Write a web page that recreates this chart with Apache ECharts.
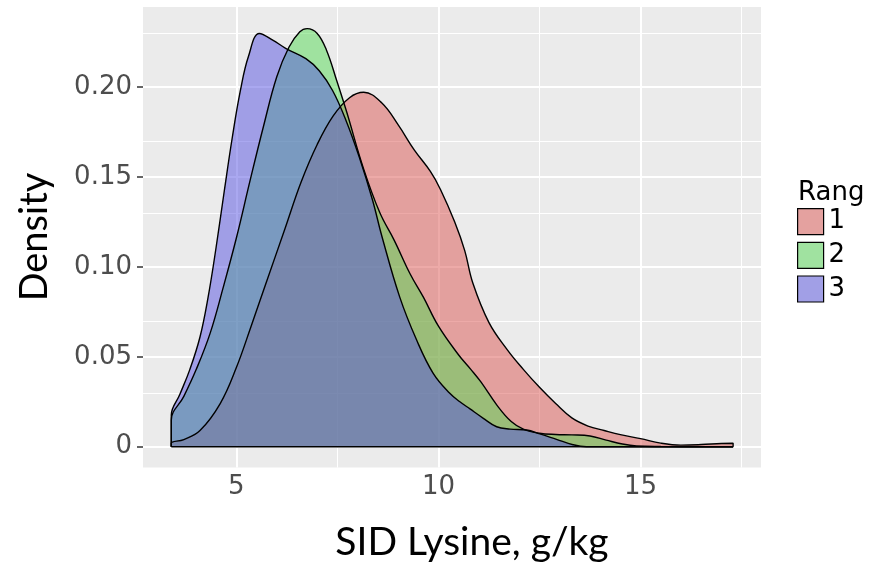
<!DOCTYPE html>
<html>
<head>
<meta charset="utf-8">
<script src="https://cdn.jsdelivr.net/npm/echarts@6/dist/echarts.min.js"></script>
<style>
html,body{margin:0;padding:0;background:#fff;}
#chart{width:877px;height:562px;}
</style>
</head>
<body>
<div id="chart"></div>
<script>
// ---- data ----
const groupNames = ['1', '2', '3'];
const xTicks = [5, 10, 15];
const xMinorGrid = [7.5, 12.5, 17.5];
const yTicks = [0, 0.05, 0.10, 0.15, 0.20];
const yMinorGrid = [0.025, 0.075, 0.125, 0.175, 0.225];

const x1 = [3.39, 3.7, 4.1, 4.6, 5.0, 5.35, 5.75, 6.2, 6.6, 7.0, 7.4, 7.8, 8.15, 8.6, 9.0, 9.4, 9.8, 10.05, 10.4, 10.65, 10.85, 11.25, 11.7, 12.1, 12.5, 12.9, 13.3, 13.7, 14.1, 14.5, 15.0, 15.5, 16.0, 16.5, 17.0, 17.29];
const y1 = [0.002, 0.004, 0.009, 0.024, 0.044, 0.066, 0.092, 0.121, 0.147, 0.168, 0.184, 0.194, 0.197, 0.191, 0.179, 0.165, 0.153, 0.143, 0.125, 0.109, 0.091, 0.069, 0.054, 0.043, 0.033, 0.024, 0.016, 0.0115, 0.009, 0.0067, 0.0045, 0.002, 0.0009, 0.0012, 0.0018, 0.0019];

const x2 = [3.39, 3.7, 4.0, 4.35, 4.68, 5.0, 5.34, 5.67, 6.0, 6.3, 6.57, 6.75, 7.0, 7.23, 7.48, 7.73, 8.14, 8.55, 8.9, 9.3, 9.63, 10.0, 10.5, 10.8, 11.05, 11.45, 11.8, 12.1, 12.5, 12.9, 13.3, 13.75, 14.15, 14.55, 14.9, 15.5, 16.5, 17.29];
const y2 = [0.0148, 0.028, 0.0426, 0.063, 0.089, 0.116, 0.148, 0.178, 0.2056, 0.222, 0.2306, 0.2324, 0.2297, 0.2204, 0.2037, 0.186, 0.155, 0.130, 0.115, 0.096, 0.083, 0.067, 0.051, 0.043, 0.036, 0.023, 0.014, 0.0098, 0.0075, 0.0068, 0.0066, 0.006, 0.0037, 0.0015, 0.0004, 0.0001, 0, 0];

const x3 = [3.39, 3.6, 3.85, 4.1, 4.3, 4.5, 4.7, 4.9, 5.1, 5.3, 5.57, 5.9, 6.23, 6.72, 7.05, 7.38, 7.71, 8.04, 8.37, 8.6, 9.04, 9.46, 9.87, 10.28, 10.53, 10.78, 11.11, 11.44, 11.77, 12.18, 12.51, 12.92, 13.33, 13.66, 14.5, 15.5, 16.5, 17.29];
const y3 = [0.0176, 0.029, 0.043, 0.061, 0.083, 0.111, 0.142, 0.172, 0.198, 0.217, 0.2297, 0.226, 0.2213, 0.2157, 0.209, 0.198, 0.1815, 0.161, 0.137, 0.117, 0.0833, 0.0593, 0.0408, 0.0297, 0.025, 0.021, 0.0158, 0.0111, 0.0098, 0.0093, 0.0071, 0.0041, 0.0011, 0, 0, 0, 0, 0];

// ---- styles ----
const fills = ['rgba(219,85,81,0.5)', 'rgba(83,217,83,0.5)', 'rgba(85,81,225,0.5)'];
const keyFills = ['#E4A19F', '#A0E2A0', '#A19FE6'];
const xs = [x1, x2, x3];
const ys = [y1, y2, y3];

function closed(xa, ya) {
  const d = [[xa[0], 0]];
  xa.forEach((x, i) => d.push([x, ya[i]]));
  d.push([xa[xa.length - 1], 0]);
  return d;
}

const densitySeries = groupNames.map((name, i) => ({
  name: name,
  type: 'line',
  data: closed(xs[i], ys[i]),
  smooth: 0.4,
  showSymbol: false,
  symbol: 'none',
  z: 3,
  itemStyle: { color: fills[i] },
  lineStyle: { color: '#000', width: 1.4 },
  areaStyle: { color: fills[i], opacity: 1 },
  silent: true
}));

const gridSeries = {
  type: 'line',
  data: [],
  z: 1,
  silent: true,
  markLine: {
    silent: true,
    z: 1,
    symbol: 'none',
    label: { show: false },
    animation: false,
    data: [
      ...xMinorGrid.map(v => ({ xAxis: v, lineStyle: { color: '#fff', width: 1, type: 'solid' } })),
      ...yMinorGrid.map(v => ({ yAxis: v, lineStyle: { color: '#fff', width: 1, type: 'solid' } })),
      ...xTicks.map(v => ({ xAxis: v, lineStyle: { color: '#fff', width: 2, type: 'solid' } })),
      ...yTicks.map(v => ({ yAxis: v, lineStyle: { color: '#fff', width: 2, type: 'solid' } }))
    ]
  }
};

const xAll = [].concat(x1, x2, x3);
const baseSeries = {
  type: 'line',
  data: [[Math.min(...xAll), 0], [Math.max(...xAll), 0]],
  showSymbol: false,
  symbol: 'none',
  z: 4,
  silent: true,
  lineStyle: { color: '#000', width: 1.6 }
};

const chart = echarts.init(document.getElementById('chart'), null, { renderer: 'canvas' });
chart.setOption({
  animation: false,
  backgroundColor: '#fff',
  grid: {
    left: 143, right: 116, top: 7, bottom: 94.4,
    show: true, backgroundColor: '#EBEBEB', borderWidth: 0
  },
  xAxis: {
    type: 'value',
    min: 2.69, max: 17.98,
    axisLine: { show: false },
    splitLine: { show: false },
    axisTick: { show: true, length: 6, lineStyle: { color: '#333', width: 1.5 }, customValues: xTicks },
    axisLabel: {
      customValues: xTicks, margin: 7,
      fontFamily: 'DejaVu Sans', fontSize: 26, color: '#4D4D4D',
      formatter: v => String(v)
    }
  },
  yAxis: {
    type: 'value',
    min: -0.0116, max: 0.2444,
    axisLine: { show: false },
    splitLine: { show: false },
    axisTick: { show: true, length: 6, lineStyle: { color: '#333', width: 1.5 }, customValues: yTicks },
    axisLabel: {
      customValues: yTicks, margin: 11,
      fontFamily: 'DejaVu Sans', fontSize: 26, color: '#4D4D4D',
      formatter: v => (v === 0 ? '0' : v.toFixed(2))
    }
  },
  legend: {
    orient: 'vertical',
    left: 797, top: 208,
    padding: 0,
    itemWidth: 26, itemHeight: 26, itemGap: 6.5,
    icon: 'rect',
    selectedMode: false,
    textStyle: { fontFamily: 'DejaVu Sans', fontSize: 26, color: '#000' },
    data: groupNames.map((n, i) => ({
      name: n,
      itemStyle: { color: keyFills[i], borderColor: '#000', borderWidth: 1.2 }
    }))
  },
  graphic: [
    { type: 'text', x: 798, y: 193.5, silent: true,
      style: { text: 'Rang', font: '26px "DejaVu Sans"', fill: '#000', textAlign: 'left', textVerticalAlign: 'middle' } },
    { type: 'text', x: 35, y: 237, rotation: Math.PI / 2, silent: true,
      style: { text: 'Density', font: '38px Lato', fill: '#000', textAlign: 'center', textVerticalAlign: 'middle' } },
    { type: 'text', x: 472, y: 542, silent: true,
      style: { text: 'SID Lysine, g/kg', font: '39px Lato', fill: '#000', textAlign: 'center', textVerticalAlign: 'middle' } }
  ],
  series: [gridSeries, ...densitySeries, baseSeries]
});
</script>
</body>
</html>
